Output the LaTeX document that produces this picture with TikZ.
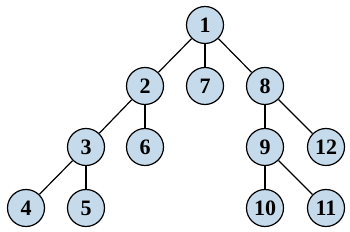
\documentclass[tikz,border=0pt]{standalone}
\usepackage{fontspec}
\setmainfont{Liberation Serif}
\begin{document}
\begin{tikzpicture}[x=1pt,y=-1pt,
  tn/.style={circle,draw=black,line width=1.2pt,fill=nodeblue,minimum size=37pt,inner sep=0pt,font=\fontsize{22}{26}\selectfont\bfseries},
  edge/.style={line width=1.2pt}]
\definecolor{nodeblue}{RGB}{197,218,234}
\useasboundingbox (0,0) rectangle (350,232);
\node[tn] (n1) at (205,25) {1};
\node[tn] (n2) at (145,86) {2};
\node[tn] (n7) at (205,86) {7};
\node[tn] (n8) at (265,86) {8};
\node[tn] (n3) at (86,147) {3};
\node[tn] (n6) at (145,147) {6};
\node[tn] (n9) at (265,147) {9};
\node[tn] (n12) at (326,147) {12};
\node[tn] (n4) at (26,208) {4};
\node[tn] (n5) at (86,208) {5};
\node[tn] (n10) at (265,208) {10};
\node[tn] (n11) at (326,208) {11};
\draw[edge] (n1) -- (n2);
\draw[edge] (n1) -- (n7);
\draw[edge] (n1) -- (n8);
\draw[edge] (n2) -- (n3);
\draw[edge] (n2) -- (n6);
\draw[edge] (n8) -- (n9);
\draw[edge] (n8) -- (n12);
\draw[edge] (n3) -- (n4);
\draw[edge] (n3) -- (n5);
\draw[edge] (n9) -- (n10);
\draw[edge] (n9) -- (n11);
\end{tikzpicture}
\end{document}
